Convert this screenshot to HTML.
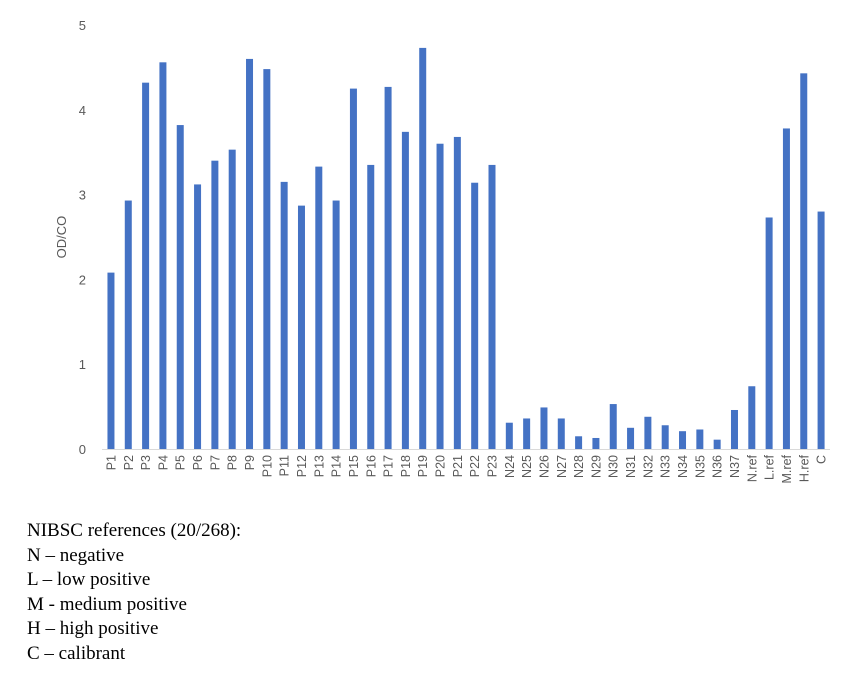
<!DOCTYPE html>
<html><head><meta charset="utf-8">
<style>
body{margin:0;background:#fff;width:865px;height:682px;overflow:hidden;}
.leg{position:absolute;left:27px;top:519px;font-family:"Liberation Serif",serif;font-size:19px;line-height:24.6px;color:#000;}
</style></head>
<body>
<svg id="c" width="865" height="682" style="position:absolute;left:0;top:0" font-family="Liberation Sans, sans-serif"></svg>
<div class="leg">NIBSC references (20/268):<br>N – negative<br>L – low positive<br>M - medium positive<br>H – high positive<br>C – calibrant</div>
<script>
var labels=[],vals=[2.08,2.93,4.32,4.56,3.82,3.12,3.40,3.53,4.60,4.48,3.15,2.87,3.33,2.93,4.25,3.35,4.27,3.74,4.73,3.60,3.68,3.14,3.35,0.31,0.36,0.49,0.36,0.15,0.13,0.53,0.25,0.38,0.28,0.21,0.23,0.11,0.46,0.74,2.73,3.78,4.43,2.80];
for(var i=1;i<=23;i++)labels.push('P'+i);
for(var i=24;i<=37;i++)labels.push('N'+i);
labels=labels.concat(['N.ref','L.ref','M.ref','H.ref','C']);
var s='',y0=449,k=84.8,x0=102.3,w=17.32;
for(var g=0;g<=5;g++){s+='<text x="86" y="'+(y0-g*k+5)+'" font-size="13" fill="#595959" text-anchor="end">'+g+'</text>';}
s+='<line x1="102" x2="830" y1="449.5" y2="449.5" stroke="#d9d9d9"/>';
for(var i=0;i<42;i++){var cx=x0+w*(i+0.5),h=vals[i]*k;
s+='<rect x="'+(cx-3.5)+'" y="'+(y0-h)+'" width="7" height="'+h+'" fill="#4472c4"/>';
s+='<text transform="translate('+(cx+4.5)+',455) rotate(-90)" font-size="12.5" fill="#595959" text-anchor="end">'+labels[i]+'</text>';}
s+='<text transform="translate(66,237) rotate(-90)" font-size="13" fill="#595959" text-anchor="middle">OD/CO</text>';
document.getElementById('c').innerHTML=s;
</script>
</body></html>
